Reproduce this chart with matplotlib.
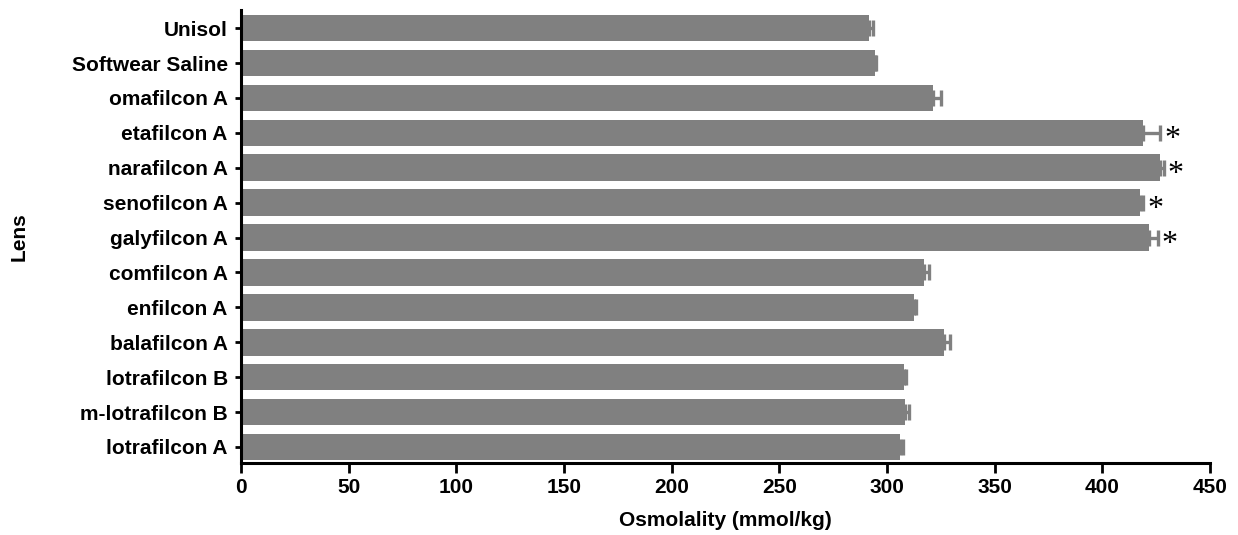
import numpy as np
import matplotlib.pyplot as plt

plt.rcParams['font.family'] = ['Liberation Sans', 'DejaVu Sans']

# listed top to bottom as drawn
lenses = ["Unisol", "Softwear Saline", "omafilcon A", "etafilcon A", "narafilcon A",
          "senofilcon A", "galyfilcon A", "comfilcon A", "enfilcon A", "balafilcon A",
          "lotrafilcon B", "m-lotrafilcon B", "lotrafilcon A"]
osmolality = [291.5, 294.3, 321.4, 419.0, 426.6, 417.3, 421.6, 317.0, 312.4, 326.4, 308.1, 308.5, 305.8]
sem = [1.9, 0.5, 3.6, 7.7, 1.8, 1.7, 4.1, 2.6, 1.1, 2.8, 0.6, 1.5, 1.7]
significant = [False, False, False, True, True, True, True, False, False, False, False, False, False]

gray = '#808080'
pos = np.arange(len(lenses))[::-1]

fig = plt.figure(figsize=(12.38, 5.35), dpi=100)
ax = fig.add_axes([0.1947, 0.1346, 0.7827, 0.8467])

ax.barh(pos, osmolality, height=0.76, color=gray, zorder=2)
ax.errorbar(osmolality, pos, xerr=[np.zeros(len(sem)), sem], fmt='none',
            ecolor=gray, elinewidth=2.4, capsize=6, capthick=2.4, zorder=1)

# asterisks for the significant lenses, just past the error bar
for p, m, e, s in zip(pos, osmolality, sem, significant):
    if s:
        ax.annotate('*', xy=(m + e, p), xytext=(3, -5), textcoords='offset points',
                    ha='left', va='center', fontsize=23, family='Liberation Serif',
                    color='black')

ax.set_xlim(0, 450)
ax.set_ylim(-0.46, 12.52)
ax.set_xticks(np.arange(0, 451, 50))
ax.set_yticks(pos)
ax.set_yticklabels(lenses)

for side in ['top', 'right']:
    ax.spines[side].set_visible(False)
for side in ['left', 'bottom']:
    ax.spines[side].set_linewidth(2.2)

ax.tick_params(axis='x', length=7, width=2, pad=4, labelsize=15)
ax.tick_params(axis='y', length=4.5, width=2, pad=5, labelsize=15)
for lbl in ax.get_xticklabels() + ax.get_yticklabels():
    lbl.set_fontweight('bold')

ax.set_xlabel('Osmolality (mmol/kg)', fontsize=15, fontweight='bold', labelpad=10)
ax.set_ylabel('Lens', fontsize=15, fontweight='bold', labelpad=31)

fig.savefig('out.png', dpi=100)
